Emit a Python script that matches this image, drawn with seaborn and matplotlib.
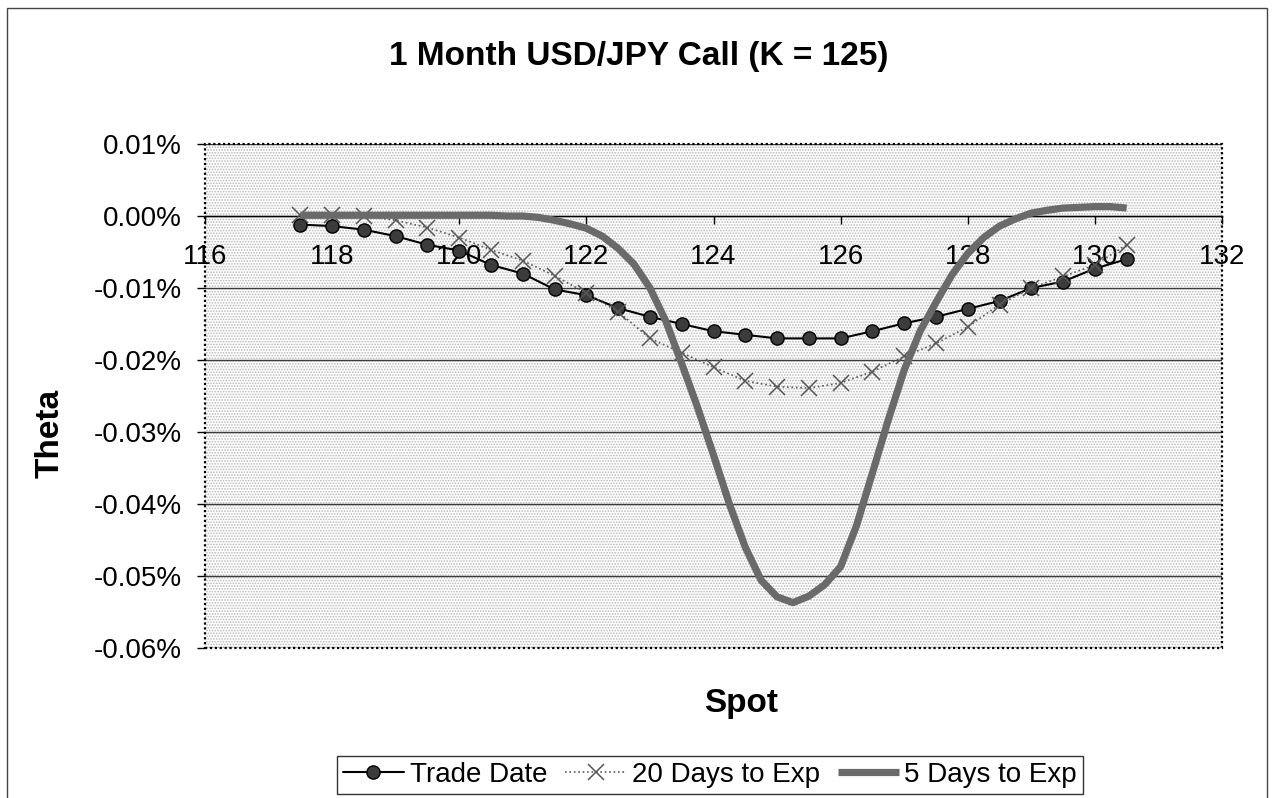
import matplotlib
matplotlib.use("Agg")
import matplotlib.pyplot as plt
import seaborn as sns
from matplotlib.patches import Rectangle
from matplotlib.ticker import FuncFormatter

# values are theta in percent (-0.017 means -0.017%)
spot = [117.5, 118.0, 118.5, 119.0, 119.5, 120.0, 120.5, 121.0, 121.5,
        122.0, 122.5, 123.0, 123.5, 124.0, 124.5, 125.0, 125.5, 126.0,
        126.5, 127.0, 127.5, 128.0, 128.5, 129.0, 129.5, 130.0, 130.5]

trade_date = [-0.0012, -0.0014, -0.0019, -0.0028, -0.0040, -0.0048, -0.0068,
              -0.0080, -0.0102, -0.0110, -0.0128, -0.0140, -0.0150, -0.0160,
              -0.0165, -0.0170, -0.0170, -0.0170, -0.0160, -0.0149, -0.0140,
              -0.0129, -0.0118, -0.0100, -0.0091, -0.0073, -0.0060]

days_20 = [0.0002, 0.0001, 0.0000, -0.0006, -0.0016, -0.0030, -0.0047,
           -0.0062, -0.0083, -0.0107, -0.0133, -0.0170, -0.0190, -0.0210,
           -0.0229, -0.0237, -0.0239, -0.0232, -0.0216, -0.0195, -0.0177,
           -0.0154, -0.0123, -0.0100, -0.0084, -0.0068, -0.0040]

spot_5d = [117.5, 117.75, 118.0, 118.25, 118.5, 118.75, 119.0, 119.25, 119.5,
           119.75, 120.0, 120.25, 120.5, 120.75, 121.0, 121.25, 121.5, 121.75,
           122.0, 122.25, 122.5, 122.75, 123.0, 123.25, 123.5, 123.75, 124.0,
           124.25, 124.5, 124.75, 125.0, 125.25, 125.5, 125.75, 126.0, 126.25,
           126.5, 126.75, 127.0, 127.25, 127.5, 127.75, 128.0, 128.25, 128.5,
           128.75, 129.0, 129.25, 129.5, 129.75, 130.0, 130.25, 130.5]

days_5 = [0.0001, 0.0001, 0.0001, 0.0001, 0.0001, 0.0001, 0.0001, 0.0001,
          0.0001, 0.0001, 0.0001, 0.0001, 0.0001, 0.0000, 0.0000, -0.0002,
          -0.0006, -0.0011, -0.0017, -0.0028, -0.0045, -0.0067, -0.0100,
          -0.0146, -0.0205, -0.0266, -0.0332, -0.0400, -0.0460, -0.0506,
          -0.0529, -0.0537, -0.0528, -0.0512, -0.0487, -0.0430, -0.0357,
          -0.0283, -0.0214, -0.0160, -0.0120, -0.0082, -0.0052, -0.0030,
          -0.0014, -0.0004, 0.0004, 0.0008, 0.0011, 0.0012, 0.0013, 0.0013,
          0.0011]

series_names = ["Trade Date", "20 Days to Exp", "5 Days to Exp"]
x_ticks = [116, 118, 120, 122, 124, 126, 128, 130, 132]
y_ticks = [0.01, 0.0, -0.01, -0.02, -0.03, -0.04, -0.05, -0.06]
title = "1 Month USD/JPY Call (K = 125)"

sns.set_style("white")
plt.rcParams["font.family"] = ["Liberation Sans", "DejaVu Sans"]
plt.rcParams["text.color"] = "black"
plt.rcParams["xtick.color"] = "black"
plt.rcParams["ytick.color"] = "black"
plt.rcParams["hatch.linewidth"] = 0.8

W, H = 1272, 798
fig = plt.figure(figsize=(W / 100, H / 100), dpi=100)
ax = fig.add_axes([205 / W, 1 - 648 / H, 1017 / W, 504 / H])

# dotted plot-area fill like the old Excel pattern
ax.add_patch(Rectangle((0, 0), 1, 1, transform=ax.transAxes, facecolor="white",
                       hatch="......", edgecolor="#b8b8b8", lw=0, zorder=0.1))

sns.lineplot(x=spot, y=trade_date, ax=ax, color="black", lw=1.5, marker="o",
             markersize=9.5, markerfacecolor="#3c3c3c", markeredgecolor="black",
             markeredgewidth=1, label=series_names[0], sort=False, estimator=None,
             zorder=3)
sns.lineplot(x=spot, y=days_20, ax=ax, color="#5a5a5a", lw=1.2, linestyle=":",
             marker="x", markersize=11, markeredgewidth=1.1, markeredgecolor="#555555",
             label=series_names[1], sort=False, estimator=None, zorder=4)
sns.lineplot(x=spot_5d, y=days_5, ax=ax, color="#6a6a6a", lw=5.2,
             label=series_names[2], sort=False, estimator=None, zorder=5,
             solid_capstyle="butt", solid_joinstyle="round")

ax.set_xlim(116, 132)
ax.set_ylim(-0.06, 0.01)
ax.set_xticks(x_ticks)
ax.set_yticks(y_ticks)


def pct(v, pos):
    s = f"{v:.2f}"
    if s == "-0.00":
        s = "0.00"
    return s + "%"


ax.yaxis.set_major_formatter(FuncFormatter(pct))
ax.xaxis.set_major_formatter(FuncFormatter(lambda v, p: f"{v:.0f}"))
ax.set_xlabel("")
ax.set_ylabel("")

ax.set_axisbelow(True)
ax.yaxis.grid(True, color="#3c3c3c", lw=1)
ax.xaxis.grid(False)

for side in ["left", "right", "top"]:
    ax.spines[side].set_visible(False)
ax.spines["bottom"].set_position(("data", 0))
ax.spines["bottom"].set_color("black")
ax.spines["bottom"].set_linewidth(1)
ax.add_patch(Rectangle((0, 0), 1, 1, transform=ax.transAxes, fill=False,
                       edgecolor="black", lw=1.6, linestyle=(0, (1, 1.2)),
                       zorder=6, clip_on=False))

ax.tick_params(axis="x", bottom=True, direction="out", length=6, width=1,
               pad=14, labelsize=20, color="black", labelcolor="black")
ax.tick_params(axis="y", left=True, direction="out", length=6, width=1,
               pad=11, labelsize=20, color="black", labelcolor="black")

if ax.get_legend() is not None:
    ax.get_legend().remove()
handles, labels = ax.get_legend_handles_labels()
leg = fig.legend(handles, labels, loc="center", bbox_to_anchor=(710 / W, 1 - 775 / H),
                 ncol=3, frameon=True, fancybox=False, edgecolor="#333333",
                 fontsize=20, handlelength=2.2, handletextpad=0.2,
                 columnspacing=0.65, borderpad=0.2, borderaxespad=0,
                 framealpha=1)
leg.get_frame().set_linewidth(1.0)

fig.text(639 / W, 1 - 65 / H, title, ha="center", va="baseline",
         fontsize=24, fontweight="bold")
fig.text(741.5 / W, 1 - 712 / H, "Spot", ha="center", va="baseline",
         fontsize=24, fontweight="bold")
fig.text(50 / W, 1 - 433 / H, "Theta", ha="center", va="center", rotation=90,
         fontsize=24, fontweight="bold")

fig.add_artist(Rectangle((7 / W, -0.02), 1260 / W, 1 - 8 / H + 0.02,
                         transform=fig.transFigure, fill=False,
                         edgecolor="#444444", lw=1))

fig.savefig("out.png", dpi=100)
